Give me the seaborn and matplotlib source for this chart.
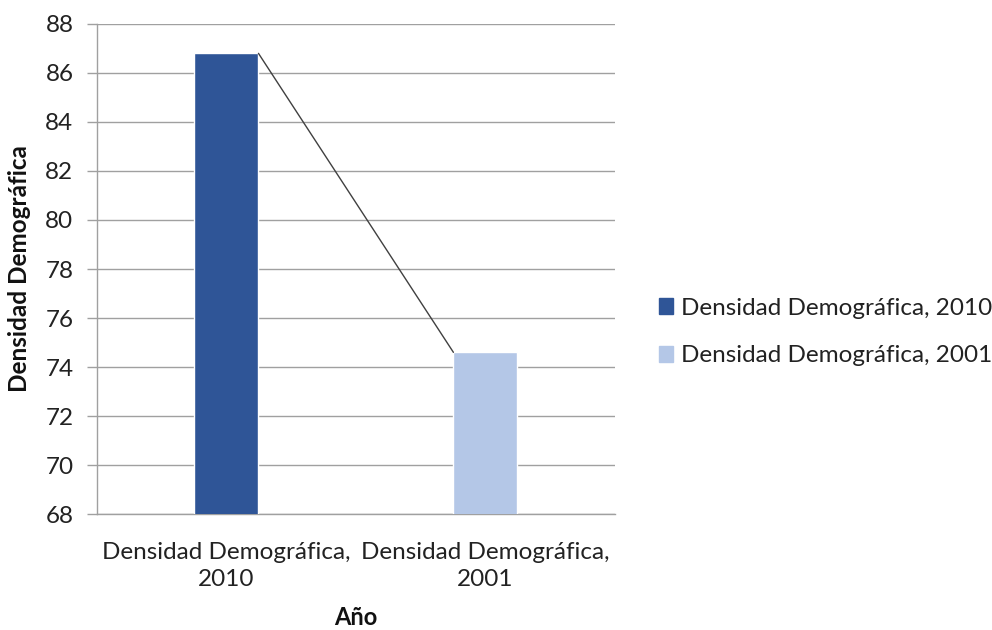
import matplotlib
matplotlib.use("Agg")
import matplotlib.pyplot as plt
import seaborn as sns
import pandas as pd

# Population density values by census year
categories = ["Densidad Demográfica, 2010", "Densidad Demográfica, 2001"]
tick_labels = ["Densidad Demográfica,\n2010", "Densidad Demográfica,\n2001"]
values = [86.8, 74.6]
colors = ["#2F5597", "#B4C7E7"]
y_ticks = [68, 70, 72, 74, 76, 78, 80, 82, 84, 86, 88]

sns.set_theme(style="white")
plt.rcParams["font.family"] = ["Lato", "DejaVu Sans"]

df = pd.DataFrame({"cat": categories, "val": values})

fig = plt.figure(figsize=(9.92, 6.3), dpi=100)
ax = fig.add_axes([0.0978, 0.184, 0.522, 0.778])

bar_w = 0.247
sns.barplot(data=df, x="cat", y="val", hue="cat", palette=colors,
            width=bar_w, dodge=False, legend=False, ax=ax, zorder=3,
            saturation=1)

# Series line joining the tops of the two bars
ax.plot([0 + bar_w / 2, 1 - bar_w / 2], values, color="#404040",
        linewidth=1, zorder=4)

ax.set_xlim(-0.5, 1.5)
ax.set_ylim(y_ticks[0], y_ticks[-1])
ax.set_yticks(y_ticks)
ax.set_yticklabels([str(t) for t in y_ticks], fontsize=17.5, color="#222222")
ax.set_xticks([0, 1])
ax.set_xticklabels(tick_labels, fontsize=17.5, color="#222222", linespacing=1.35)

grid_c = "#A0A0A0"
ax.yaxis.grid(True, color=grid_c, linewidth=1, zorder=0)
ax.xaxis.grid(False)
for side in ["top", "right"]:
    ax.spines[side].set_visible(False)
ax.spines["left"].set_color(grid_c)
ax.spines["left"].set_linewidth(1)
ax.spines["bottom"].set_color(grid_c)
ax.spines["bottom"].set_linewidth(1)
ax.tick_params(axis="y", which="major", left=True, length=7, width=1,
               color=grid_c, pad=10)
ax.tick_params(axis="x", which="major", bottom=False, pad=14)

ax.set_ylabel("Densidad Demográfica", fontsize=17.5, fontweight="bold",
              color="#111111", labelpad=10)
ax.set_xlabel("Año", fontsize=17, fontweight="bold", color="#111111",
              labelpad=12)

handles = [plt.Rectangle((0, 0), 1, 1, color=c) for c in colors]
fig.legend(handles, categories, loc="center left",
           bbox_to_anchor=(0.664, 0.473), frameon=False, fontsize=17.5,
           handlelength=0.6, handleheight=0.6, handletextpad=0.3,
           labelspacing=1.1, labelcolor="#222222", borderpad=0,
           borderaxespad=0)

fig.savefig("out.png", dpi=100)
